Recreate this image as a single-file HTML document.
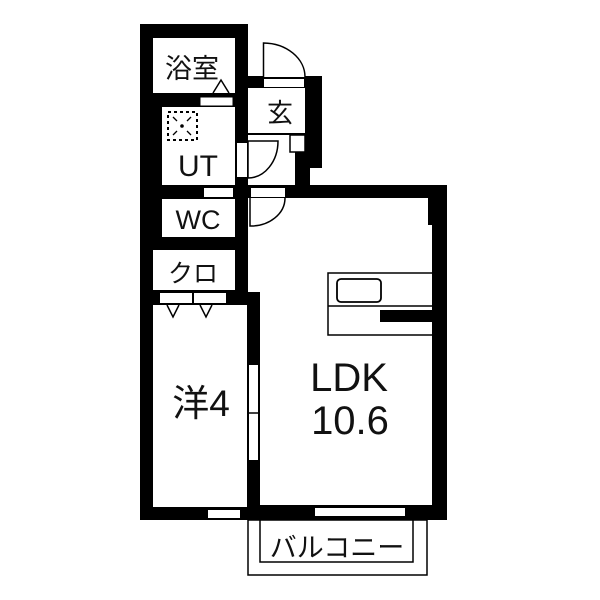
<!DOCTYPE html>
<html><head><meta charset="utf-8"><style>
html,body{margin:0;padding:0;background:#fff;width:600px;height:600px;overflow:hidden}
svg{display:block}
text{font-family:"Liberation Sans","Noto Sans CJK JP",sans-serif;fill:#111}
</style></head><body>
<svg width="600" height="600" viewBox="0 0 600 600" xmlns="http://www.w3.org/2000/svg">
<rect x="140" y="24" width="108" height="496" fill="#000"/>
<rect x="248" y="76" width="74" height="123" fill="#000"/>
<rect x="247" y="185" width="200" height="335" fill="#000"/>
<rect x="153" y="38" width="82" height="55" fill="#fff"/>
<rect x="162" y="107" width="73" height="78" fill="#fff"/>
<rect x="162" y="199" width="73" height="38" fill="#fff"/>
<rect x="153" y="250" width="82" height="40" fill="#fff"/>
<rect x="153" y="305" width="94" height="202" fill="#fff"/>
<rect x="248" y="88" width="57" height="97" fill="#fff"/>
<rect x="295" y="152" width="15" height="33" fill="#000"/>
<rect x="310" y="168" width="15" height="17" fill="#fff"/>
<rect x="260" y="198" width="172" height="307" fill="#fff"/>
<rect x="248" y="198" width="14" height="94" fill="#fff"/>
<rect x="428" y="198" width="4" height="27" fill="#000"/>
<line x1="248" y1="134" x2="305" y2="134" stroke="#000" stroke-width="2"/>
<rect x="290" y="135" width="15" height="17" fill="#fff" stroke="#000" stroke-width="1.5"/>
<rect x="264" y="79" width="40" height="8" fill="#fff"/>
<path d="M263.5 77 V43 A42 34 0 0 1 305 77" fill="#fff" stroke="#000" stroke-width="1.5"/>
<rect x="200" y="97" width="33" height="9" fill="#fff" stroke="#000" stroke-width="1"/>
<path d="M213 93 L221 80 L229 93" fill="none" stroke="#000" stroke-width="1.5"/>
<rect x="168" y="112" width="29" height="28" fill="none" stroke="#000" stroke-width="2" stroke-dasharray="3,3"/>
<circle cx="182" cy="126" r="1.8" fill="#000"/>
<path d="M173 117 L177 121 M191 117 L187 121 M173 135 L177 131 M191 135 L187 131" stroke="#000" stroke-width="1.3"/>
<rect x="237" y="143" width="10" height="34" fill="#fff"/>
<path d="M248 178 V141 H278 A30 37 0 0 1 248 178" fill="#fff" stroke="#000" stroke-width="1.5"/>
<rect x="204" y="188" width="29" height="9" fill="#fff"/>
<rect x="251" y="188" width="34" height="9" fill="#fff"/>
<path d="M250 198 V226 A34 28 0 0 0 285 198" fill="#fff" stroke="#000" stroke-width="1.5"/>
<rect x="160" y="293" width="32" height="10" fill="#fff"/>
<rect x="194" y="293" width="32" height="10" fill="#fff"/>
<path d="M167 305 L173 317 L179 305 M200 305 L206 317 L212 305" fill="none" stroke="#000" stroke-width="1.5"/>
<rect x="249" y="365" width="9" height="95" fill="#fff"/>
<line x1="248" y1="413" x2="260" y2="413" stroke="#000" stroke-width="1.5"/>
<rect x="208" y="510" width="32" height="8" fill="#fff"/>
<rect x="315" y="508" width="90" height="8" fill="#fff"/>
<path d="M432 273 H328 V335 H432" fill="#fff" stroke="#000" stroke-width="1.5"/>
<path d="M328 306 H432" stroke="#000" stroke-width="1.5"/>
<rect x="337" y="279" width="44" height="23" rx="4" fill="#fff" stroke="#000" stroke-width="1.8"/>
<rect x="380" y="310" width="52" height="12" fill="#000"/>
<rect x="248" y="520" width="179" height="55" fill="#fff" stroke="#000" stroke-width="1.5"/>
<rect x="260" y="520" width="153" height="42" fill="#fff" stroke="#000" stroke-width="1.5"/>
<line x1="247" y1="519" x2="428" y2="519" stroke="#000" stroke-width="2"/>
<text x="192" y="78" font-size="27" text-anchor="middle">浴室</text>
<text x="198" y="176" font-size="30" text-anchor="middle">UT</text>
<text x="198" y="229" font-size="27" text-anchor="middle">WC</text>
<text x="193" y="282" font-size="25" text-anchor="middle">クロ</text>
<text x="280" y="122" font-size="26" text-anchor="middle">玄</text>
<text x="201" y="416" font-size="37" text-anchor="middle">洋4</text>
<text x="349" y="391" font-size="40" text-anchor="middle">LDK</text>
<text x="350" y="434" font-size="40" text-anchor="middle">10.6</text>
<text x="337" y="557" font-size="27" text-anchor="middle">バルコニー</text>
</svg>
</body></html>
